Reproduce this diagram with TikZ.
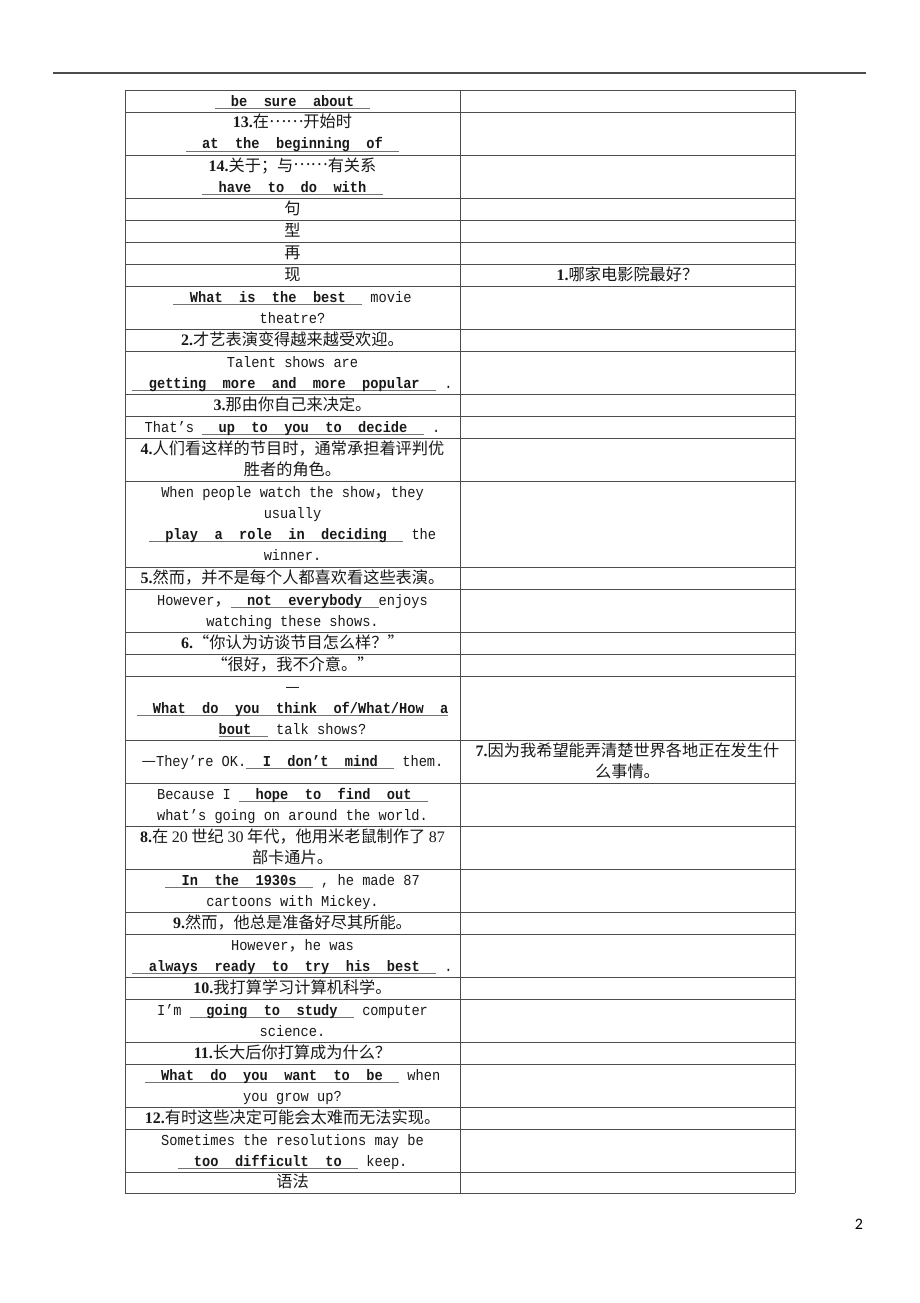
\documentclass[tikz,border=0pt]{standalone}
\usepackage{fontspec}
\newfontfamily\cjkf{Noto Sans CJK SC}
\newfontfamily\monof[FakeStretch=0.9]{Liberation Mono}
\newfontfamily\serf{Liberation Serif}
\newfontfamily\pagef{Carlito}
\definecolor{gridgray}{gray}{0.30}
\definecolor{ulgray}{gray}{0.45}
\definecolor{txtgray}{gray}{0.10}
\newcommand\zh[1]{{\cjkf\fontsize{16.2}{18}\selectfont #1}}
\newcommand\nm[1]{{\serf\bfseries\fontsize{16}{18}\selectfont #1}}
\newcommand\rn[1]{{\serf\fontsize{16}{18}\selectfont #1}}
\newcommand\cdd{\raisebox{0.32em}{……}}
\newcommand\ulbox[1]{\setbox0\hbox{#1}\rlap{\color{ulgray}\rule[-2.6pt]{\wd0}{0.7pt}}\box0}
\newcommand\blk[1]{\ulbox{~~\textbf{#1}~~}}
\tikzset{
  txt/.style={anchor=base, inner sep=0pt, text=txtgray, font=\monof\fontsize{15.2}{16}\selectfont},
  grid/.style={draw=gridgray, line width=0.8pt},
  toprule/.style={draw=black!70, line width=1.3pt}
}
\begin{document}
\begin{tikzpicture}[x=1pt,y=-1pt]
\useasboundingbox (0,0) rectangle (920,1303);
\fill[white] (0,0) rectangle (920,1303);
% top rule
\coordinate (ra) at (53,73);
\coordinate (rb) at (866,73);
\draw[toprule] (ra) -- (rb);
% table grid
\foreach \y in {90,112,155,198,220,242,264,286,329,351,394,416,438,481,567,589,632,654,676,740,783,826,869,912,934,977,999,1042,1064,1107,1129,1172,1193}
  \draw[grid] (125,\y) -- (795,\y);
\foreach \x in {125,460,795}
  \draw[grid] (\x,90) -- (\x,1193);
% left column texts
\def\cx{292.5}
\node[txt] (a0) at (\cx,106.5) {\blk{be~~sure~~about}};
\node[txt] (a1) at (\cx,128) {\nm{13.}\zh{在\cdd 开始时}};
\node[txt] (a2) at (\cx,149) {\blk{at~~the~~beginning~~of}};
\node[txt] (a3) at (\cx,171) {\nm{14.}\zh{关于；与\cdd 有关系}};
\node[txt] (a4) at (\cx,192) {\blk{have~~to~~do~~with}};
\node[txt] (a5) at (\cx,214.5) {\zh{句}};
\node[txt] (a6) at (\cx,236.5) {\zh{型}};
\node[txt] (a7) at (\cx,258.5) {\zh{再}};
\node[txt] (a8) at (\cx,280.5) {\zh{现}};
\node[txt] (a9) at (\cx,302) {\blk{What~~is~~the~~best}~movie};
\node[txt] (a10) at (\cx,323) {theatre?};
\node[txt] (a11) at (\cx,345.5) {\nm{2.}\zh{才艺表演变得越来越受欢迎。}};
\node[txt] (a12) at (\cx,367) {Talent shows are};
\node[txt] (a13) at (\cx,388) {\blk{getting~~more~~and~~more~~popular}~.};
\node[txt] (a14) at (\cx,410.5) {\nm{3.}\zh{那由你自己来决定。}};
\node[txt] (a15) at (\cx,432.5) {That’s~\blk{up~~to~~you~~to~~decide}~.};
\node[txt] (a16) at (\cx,454) {\nm{4.}\zh{人们看这样的节目时，通常承担着评判优}};
\node[txt] (a17) at (\cx,475) {\zh{胜者的角色。}};
\node[txt] (a18) at (\cx,497) {When people watch the show\zh{，}they};
\node[txt] (a19) at (\cx,518) {usually};
\node[txt] (a20) at (\cx,539) {\blk{play~~a~~role~~in~~deciding}~the};
\node[txt] (a21) at (\cx,560) {winner.};
\node[txt] (a22) at (\cx,583.5) {\nm{5.}\zh{然而，并不是每个人都喜欢看这些表演。}};
\node[txt] (a23) at (\cx,605) {However\zh{，}\blk{not~~everybody}enjoys};
\node[txt] (a24) at (\cx,626) {watching these shows.};
\node[txt] (a25) at (\cx,648.5) {\nm{6.}\zh{“你认为访谈节目怎么样？”}};
\node[txt] (a26) at (\cx,670.5) {\zh{“很好，我不介意。”}};
\node[txt] (a27) at (\cx,692) {\zh{—}};
\node[txt] (a28) at (\cx,713) {\ulbox{~~\textbf{What~~do~~you~~think~~of/What/How~~a}}};
\node[txt] (a29) at (\cx,734) {\ulbox{\textbf{bout}~~}~talk shows?};
\node[txt] (a30) at (\cx,766.5) {\zh{—}They’re OK.\blk{I~~don’t~~mind}~them.};
\node[txt] (a31) at (\cx,799) {Because I~\blk{hope~~to~~find~~out}};
\node[txt] (a32) at (\cx,820) {what’s going on around the world.};
\node[txt] (a33) at (\cx,842) {\nm{8.}\zh{在 }\rn{20}\zh{ 世纪 }\rn{30}\zh{ 年代，他用米老鼠制作了 }\rn{87}};
\node[txt] (a34) at (\cx,863) {\zh{部卡通片。}};
\node[txt] (a35) at (\cx,885) {\blk{In~~the~~1930s}~, he made 87};
\node[txt] (a36) at (\cx,906) {cartoons with Mickey.};
\node[txt] (a37) at (\cx,928.5) {\nm{9.}\zh{然而，他总是准备好尽其所能。}};
\node[txt] (a38) at (\cx,950) {However\zh{，}he was};
\node[txt] (a39) at (\cx,971) {\blk{always~~ready~~to~~try~~his~~best}~.};
\node[txt] (a40) at (\cx,993.5) {\nm{10.}\zh{我打算学习计算机科学。}};
\node[txt] (a41) at (\cx,1015) {I’m~\blk{going~~to~~study}~computer};
\node[txt] (a42) at (\cx,1036) {science.};
\node[txt] (a43) at (\cx,1058.5) {\nm{11.}\zh{长大后你打算成为什么？}};
\node[txt] (a44) at (\cx,1080) {\blk{What~~do~~you~~want~~to~~be}~when};
\node[txt] (a45) at (\cx,1101) {you grow up?};
\node[txt] (a46) at (\cx,1123.5) {\nm{12.}\zh{有时这些决定可能会太难而无法实现。}};
\node[txt] (a47) at (\cx,1145) {Sometimes the resolutions may be};
\node[txt] (a48) at (\cx,1166) {\blk{too~~difficult~~to}~keep.};
\node[txt] (a49) at (\cx,1187.5) {\zh{语法}};
% right column texts
\def\rx{627.5}
\node[txt] (b1) at (\rx,280.5) {\nm{1.}\zh{哪家电影院最好？}};
\node[txt] (b2) at (\rx,756) {\nm{7.}\zh{因为我希望能弄清楚世界各地正在发生什}};
\node[txt] (b3) at (\rx,777) {\zh{么事情。}};
% page number
\node[anchor=base, inner sep=0pt, font=\pagef\fontsize{16}{18}\selectfont] (pg) at (859,1229) {2};
\end{tikzpicture}
\end{document}
